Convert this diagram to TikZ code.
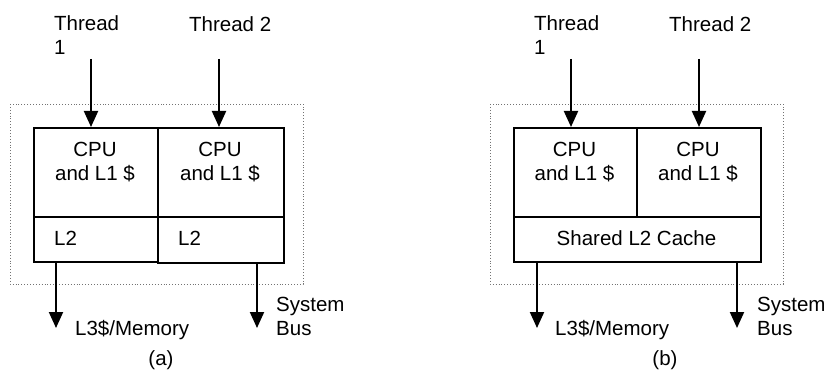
\documentclass[tikz,border=0pt]{standalone}
\usepackage{fontspec}
\setmainfont{Liberation Sans}
\usetikzlibrary{arrows.meta}
\begin{document}
\begin{tikzpicture}[x=1pt,y=-1pt,
  txt/.style={font=\fontsize{20.5}{23.5}\selectfont, inner sep=0pt, align=left},
  ctxt/.style={font=\fontsize{20.5}{23.5}\selectfont, inner sep=0pt, align=center},
  cell/.style={draw, line width=2pt, inner sep=0pt, minimum width=#1},
  frame/.style={draw=black!55, line width=0.9pt, dotted},
  arr/.style={line width=2pt, -{Triangle[length=16pt,width=14pt]}}]
\useasboundingbox (0,0) rectangle (829,371);

% ---------- (a) ----------
\draw[frame] (10,104) rectangle (303,284);
\node[cell=124pt, minimum height=89.5pt, anchor=north west] (cpuA1) at (33,127) {};
\node[cell=124pt, minimum height=44.5pt, anchor=north west] (l2A1) at (33,216.5) {};
\node[cell=126pt, minimum height=89.5pt, anchor=north west] (cpuA2) at (157,127) {};
\node[cell=126pt, minimum height=45.5pt, anchor=north west] (l2A2) at (157,216.5) {};
\node[ctxt, anchor=base] (cpuA1t) at (95,180.5) {CPU\\and L1 \$};
\node[ctxt, anchor=base] (cpuA2t) at (220,180.5) {CPU\\and L1 \$};
\node[txt, anchor=base west] (l2A1t) at (54,246) {L2};
\node[txt, anchor=base west] (l2A2t) at (178,246) {L2};
\node[txt, anchor=base west] (thA1) at (54,54.5) {Thread\\1};
\node[txt, anchor=base west] (thA2) at (189,31.5) {Thread 2};
\coordinate (sA1) at (91,59);
\coordinate (sA2) at (219,59);
\draw[arr] (sA1) -- (sA1 |- cpuA1.north);
\draw[arr] (sA2) -- (sA2 |- cpuA2.north);
\coordinate (eA1) at (56,328);
\coordinate (eA2) at (257,328);
\draw[arr] (eA1 |- l2A1.south) -- (eA1);
\draw[arr] (eA2 |- l2A2.south) -- (eA2);
\node[txt, anchor=base west] (memA) at (75,335) {L3\$/Memory};
\node[txt, anchor=base west] (busA) at (276,335) {System\\Bus};
\node[ctxt, anchor=base] (capA) at (161,365) {(a)};

% ---------- (b) ----------
\draw[frame] (490,104) rectangle (783,284);
\node[cell=123pt, minimum height=89.5pt, anchor=north west] (cpuB1) at (513,127) {};
\node[cell=124pt, minimum height=89.5pt, anchor=north west] (cpuB2) at (636,127) {};
\node[cell=247pt, minimum height=44.5pt, anchor=north west] (l2B) at (513,216.5) {};
\node[ctxt, anchor=base] (cpuB1t) at (574.5,180.5) {CPU\\and L1 \$};
\node[ctxt, anchor=base] (cpuB2t) at (698,180.5) {CPU\\and L1 \$};
\node[ctxt, anchor=base] (l2Bt) at (636.5,246) {Shared L2 Cache};
\node[txt, anchor=base west] (thB1) at (534,54.5) {Thread\\1};
\node[txt, anchor=base west] (thB2) at (669,31.5) {Thread 2};
\coordinate (sB1) at (571,59);
\coordinate (sB2) at (699,59);
\draw[arr] (sB1) -- (sB1 |- cpuB1.north);
\draw[arr] (sB2) -- (sB2 |- cpuB2.north);
\coordinate (eB1) at (537,328);
\coordinate (eB2) at (737,328);
\draw[arr] (eB1 |- l2B.south) -- (eB1);
\draw[arr] (eB2 |- l2B.south) -- (eB2);
\node[txt, anchor=base west] (memB) at (555,335) {L3\$/Memory};
\node[txt, anchor=base west] (busB) at (757,335) {System\\Bus};
\node[ctxt, anchor=base] (capB) at (665,365) {(b)};
\end{tikzpicture}
\end{document}
